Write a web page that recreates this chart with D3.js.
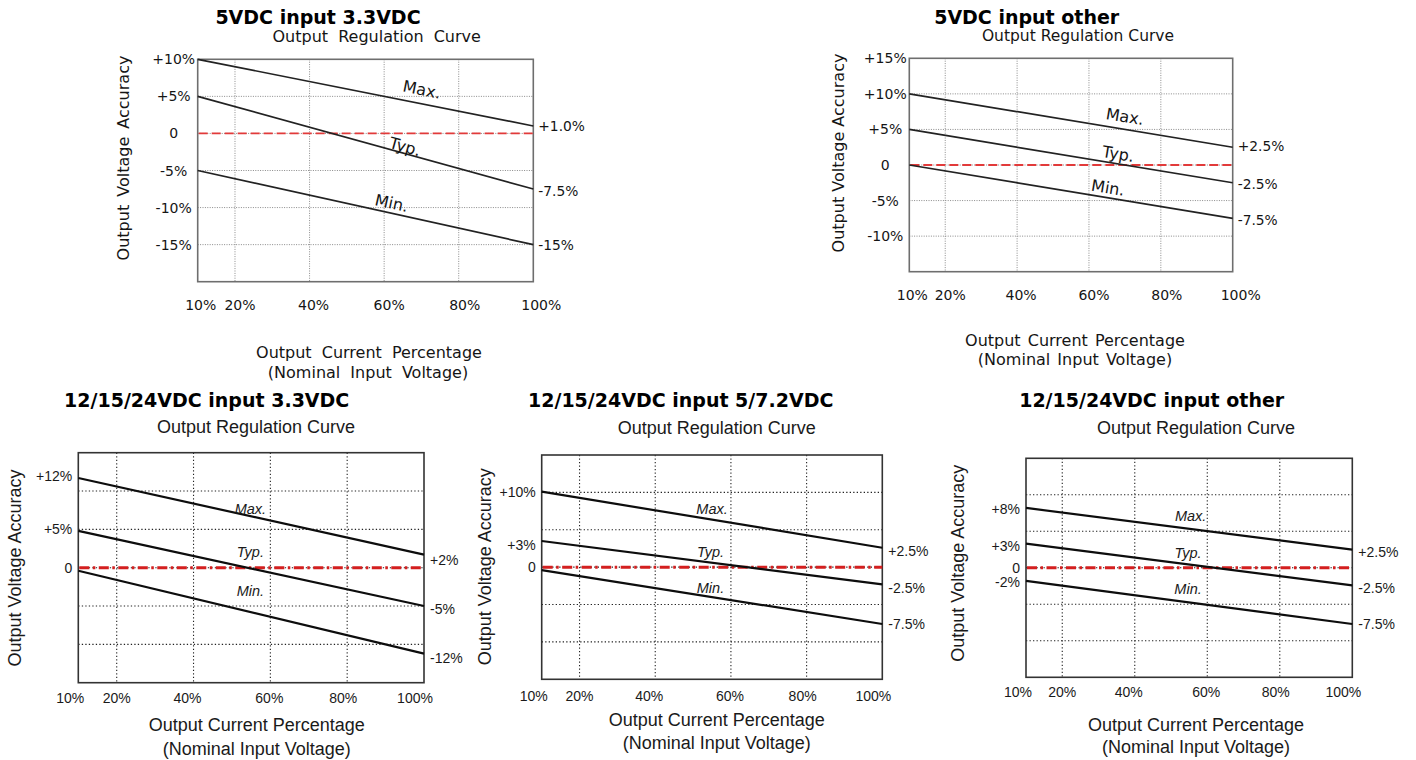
<!DOCTYPE html>
<html>
<head>
<meta charset="utf-8">
<script src="https://cdn.jsdelivr.net/npm/d3@7/dist/d3.min.js"></script>
<style>
  html, body { margin: 0; padding: 0; background: #fff; }
  svg { display: block; }
</style>
</head>
<body>
<svg id="chart" width="1416" height="760"></svg>
<script>
// ---------------- DATA ----------------
const xTickValues = [10, 20, 40, 60, 80, 100];
const xTickLabels = ["10%", "20%", "40%", "60%", "80%", "100%"];
const xGridValues = [20, 40, 60, 80];
const seriesNames = ["Max.", "Typ.", "Min."];

const panelTitles = [
  "5VDC input 3.3VDC",
  "5VDC input other",
  "12/15/24VDC input 3.3VDC",
  "12/15/24VDC input 5/7.2VDC",
  "12/15/24VDC input other"
];
const subTitle = "Output Regulation Curve";
const yAxisTitle = "Output Voltage Accuracy";
const xAxisTitle1 = "Output Current Percentage";
const xAxisTitle2 = "(Nominal Input Voltage)";

// Panel 1: 5VDC input 3.3VDC
const p1Start = [10, 5, -5];
const p1End = [1.0, -7.5, -15];
const p1YTicks = [10, 5, 0, -5, -10, -15];
const p1YTickLabels = ["+10%", "+5%", "0", "-5%", "-10%", "-15%"];
const p1YGrid = [5, 0, -5, -10, -15];
const p1EndLabels = ["+1.0%", "-7.5%", "-15%"];
const p1NameX = [70.1, 65.6, 62.0];
const p1NameY = [5.9, -1.8, -9.4];

// Panel 2: 5VDC input other
const p2Start = [10, 5, 0];
const p2End = [2.5, -2.5, -7.5];
const p2YTicks = [15, 10, 5, 0, -5, -10];
const p2YTickLabels = ["+15%", "+10%", "+5%", "0", "-5%", "-10%"];
const p2YGrid = [10, 5, 0, -5, -10];
const p2EndLabels = ["+2.5%", "-2.5%", "-7.5%"];
const p2NameX = [70.0, 68.1, 65.3];
const p2NameY = [6.8, 1.55, -3.2];

// Panel 3: 12/15/24VDC input 3.3VDC
const p3Start = [11.7, 4.8, -0.4];
const p3End = [1.7, -5.0, -11.2];
const p3YTicks = [12, 5, 0];
const p3YTickLabels = ["+12%", "+5%", "0"];
const p3YGrid = [10, 5, 0, -5, -10];
const p3EndLabels = ["+2%", "-5%", "-12%"];
const p3NameX = [54.8, 54.8, 54.8];
const p3NameY = [7.66, 2.09, -3.04];

// Panel 4: 12/15/24VDC input 5/7.2VDC
const p4Start = [10.1, 3.5, -0.4];
const p4End = [2.6, -2.3, -7.6];
const p4YTicks = [10, 3, 0];
const p4YTickLabels = ["+10%", "+3%", "0"];
const p4YGrid = [10, 5, 0, -5, -10];
const p4EndLabels = ["+2.5%", "-2.5%", "-7.5%"];
const p4NameX = [55.0, 54.6, 54.6];
const p4NameY = [7.78, 2.07, -2.82];

// Panel 5: 12/15/24VDC input other
const p5Start = [8.2, 3.3, -1.8];
const p5End = [2.5, -2.4, -7.7];
const p5YTicks = [8, 3, 0, -2];
const p5YTickLabels = ["+8%", "+3%", "0", "-2%"];
const p5YGrid = [10, 5, 0, -5, -10];
const p5EndLabels = ["+2.5%", "-2.5%", "-7.5%"];
const p5NameX = [55.4, 54.7, 54.7];
const p5NameY = [7.14, 1.99, -2.9];

// ---------------- LAYOUT / STYLE ----------------
const topStyle = {
  font: "'DejaVu Sans', Verdana, sans-serif",
  text: "#151515",
  line: "#222", lineW: 1.7,
  grid: "#8a8a8a", gridDash: "1,1.4", gridW: 1,
  border: "#6e6e6e", borderW: 1.6,
  red: "#e23a3a", redW: 1.8, redDash: "9,4",
  tickSize: 14, endSize: 13.8, nameSize: 16, nameItalic: false, rotateNames: true,
  xNudge: [3, 5, 4, 5, 6, 8], yLabelAnchor: "middle", yLabelDx: -24, endDx: 5
};
const botStyle = {
  font: "'Liberation Sans', Arial, sans-serif",
  text: "#1a1a1a",
  line: "#0d0d0d", lineW: 2.2,
  grid: "#222", gridDash: "1.3,2.2", gridW: 1.1,
  border: "#333", borderW: 1.6,
  red: "#d41f1f", redW: 3, redDash: "10,3.5,2.5,3.5",
  tickSize: 14, endSize: 14, nameSize: 14.5, nameItalic: true, rotateNames: false,
  xNudge: [-8, 0, -6, -1, -4, -9], yLabelAnchor: "end", yLabelDx: -6, endDx: 6
};

const panels = [
  { title: panelTitles[0], st: topStyle, box: {l: 197.7, r: 533.3, t: 59.3, b: 281.7}, yDomain: [-20, 10],
    start: p1Start, end: p1End, yTicks: p1YTicks, yTickLabels: p1YTickLabels, yGrid: p1YGrid,
    endLabels: p1EndLabels, nameX: p1NameX, nameY: p1NameY,
    pos: { title: [318, 17], sub: [376.7, 36.7], subSize: 16, subWs: 5, yl: [123, 158], ylSize: 16, ylWs: 3,
           xt1: [369, 352], xt2: [368, 372], xtSize: 16, xtWs: 5, tickY: 305, endDy: [0, 2, 0] } },
  { title: panelTitles[1], st: topStyle, box: {l: 909.3, r: 1232.7, t: 58.3, b: 271.7}, yDomain: [-15, 15],
    start: p2Start, end: p2End, yTicks: p2YTicks, yTickLabels: p2YTickLabels, yGrid: p2YGrid,
    endLabels: p2EndLabels, nameX: p2NameX, nameY: p2NameY,
    pos: { title: [1026.7, 17], sub: [1078, 36], subSize: 15.5, subWs: 0, yl: [838, 153], ylSize: 16, ylWs: 0,
           xt1: [1075, 340], xt2: [1075, 359], xtSize: 16, xtWs: 2, tickY: 295, endDy: [-1, 1, 2] } },
  { title: panelTitles[2], st: botStyle, box: {l: 78.3, r: 424, t: 452.7, b: 682.7}, yDomain: [-15, 15],
    start: p3Start, end: p3End, yTicks: p3YTicks, yTickLabels: p3YTickLabels, yGrid: p3YGrid,
    endLabels: p3EndLabels, nameX: p3NameX, nameY: p3NameY,
    pos: { title: [206.7, 400], sub: [256, 426.7], subSize: 18, subWs: 0, yl: [15, 568], ylSize: 18, ylWs: 0,
           xt1: [256.7, 725], xt2: [256.7, 749], xtSize: 18, xtWs: 0, tickY: 698.3, endDy: [5, 2.5, 4.5] } },
  { title: panelTitles[3], st: botStyle, box: {l: 541.7, r: 882.3, t: 455, b: 679.3}, yDomain: [-15, 15],
    start: p4Start, end: p4End, yTicks: p4YTicks, yTickLabels: p4YTickLabels, yGrid: p4YGrid,
    endLabels: p4EndLabels, nameX: p4NameX, nameY: p4NameY,
    pos: { title: [680.7, 400], sub: [716.7, 428.3], subSize: 18, subWs: 0, yl: [485, 566.7], ylSize: 18, ylWs: 0,
           xt1: [716.7, 720], xt2: [716.7, 743.3], xtSize: 18, xtWs: 0, tickY: 695.7, endDy: [3, 4, 0] } },
  { title: panelTitles[4], st: botStyle, box: {l: 1026, r: 1352.3, t: 458.3, b: 677.3}, yDomain: [-15, 15],
    start: p5Start, end: p5End, yTicks: p5YTicks, yTickLabels: p5YTickLabels, yGrid: p5YGrid,
    endLabels: p5EndLabels, nameX: p5NameX, nameY: p5NameY,
    pos: { title: [1151.7, 400], sub: [1196, 428.3], subSize: 18, subWs: 0, yl: [958.3, 563.3], ylSize: 18, ylWs: 0,
           xt1: [1196, 725], xt2: [1196, 746.7], xtSize: 18, xtWs: 0, tickY: 692.3, endDy: [2, 3, 0] } }
];

// ---------------- DRAW ----------------
const svg = d3.select("#chart");
svg.append("rect").attr("width", 1416).attr("height", 760).attr("fill", "#fff");

panels.forEach(p => {
  const st = p.st;
  const x = d3.scaleLinear().domain([10, 100]).range([p.box.l, p.box.r]);
  const y = d3.scaleLinear().domain(p.yDomain).range([p.box.b, p.box.t]);
  const g = svg.append("g");

  // horizontal grid
  g.append("g").selectAll("line").data(p.yGrid).join("line")
    .attr("x1", x(10)).attr("x2", x(100))
    .attr("y1", d => y(d)).attr("y2", d => y(d))
    .attr("stroke", st.grid).attr("stroke-width", st.gridW)
    .attr("stroke-dasharray", st.gridDash);
  // vertical grid
  g.append("g").selectAll("line").data(xGridValues).join("line")
    .attr("x1", d => x(d)).attr("x2", d => x(d))
    .attr("y1", y(p.yDomain[1])).attr("y2", y(p.yDomain[0]))
    .attr("stroke", st.grid).attr("stroke-width", st.gridW)
    .attr("stroke-dasharray", st.gridDash);

  // border
  g.append("rect")
    .attr("x", x(10)).attr("y", y(p.yDomain[1]))
    .attr("width", x(100) - x(10)).attr("height", y(p.yDomain[0]) - y(p.yDomain[1]))
    .attr("fill", "none").attr("stroke", st.border).attr("stroke-width", st.borderW);

  // zero reference (red)
  g.append("line")
    .attr("x1", x(10) + 1).attr("x2", x(100))
    .attr("y1", y(0)).attr("y2", y(0))
    .attr("stroke", st.red).attr("stroke-width", st.redW)
    .attr("stroke-dasharray", st.redDash);

  // series lines
  const lineGen = d3.line().x(d => x(d[0])).y(d => y(d[1]));
  seriesNames.forEach((name, i) => {
    g.append("path")
      .attr("d", lineGen([[10, p.start[i]], [100, p.end[i]]]))
      .attr("fill", "none").attr("stroke", st.line).attr("stroke-width", st.lineW);

    // series name label
    const cx = x(p.nameX[i]), cy = y(p.nameY[i]);
    const ang = st.rotateNames
      ? Math.atan2(y(p.end[i]) - y(p.start[i]), x(100) - x(10)) * 180 / Math.PI : 0;
    g.append("text")
      .attr("transform", `translate(${cx},${cy}) rotate(${ang})`)
      .attr("text-anchor", "middle").attr("dominant-baseline", "central")
      .attr("font-family", st.font).attr("font-size", st.nameSize)
      .attr("font-style", st.nameItalic ? "italic" : "normal")
      .attr("fill", st.text).text(name);

    // end value label
    g.append("text")
      .attr("x", x(100) + st.endDx).attr("y", y(p.end[i]) + p.pos.endDy[i])
      .attr("dominant-baseline", "central")
      .attr("font-family", st.font).attr("font-size", st.endSize)
      .attr("fill", st.text).text(p.endLabels[i]);
  });

  // y tick labels
  g.append("g").selectAll("text").data(p.yTicks).join("text")
    .attr("x", x(10) + st.yLabelDx).attr("y", d => y(d))
    .attr("text-anchor", st.yLabelAnchor).attr("dominant-baseline", "central")
    .attr("font-family", st.font).attr("font-size", st.tickSize)
    .attr("fill", st.text).text((d, i) => p.yTickLabels[i]);

  // x tick labels
  g.append("g").selectAll("text").data(xTickValues).join("text")
    .attr("x", (d, i) => x(d) + st.xNudge[i]).attr("y", p.pos.tickY)
    .attr("text-anchor", "middle").attr("dominant-baseline", "central")
    .attr("font-family", st.font).attr("font-size", st.tickSize)
    .attr("fill", st.text).text((d, i) => xTickLabels[i]);

  // titles
  g.append("text").attr("x", p.pos.title[0]).attr("y", p.pos.title[1])
    .attr("text-anchor", "middle").attr("dominant-baseline", "central")
    .attr("font-family", "'DejaVu Sans', Verdana, sans-serif").attr("font-weight", "bold")
    .attr("font-size", 19).attr("fill", "#000").text(p.title);
  g.append("text").attr("x", p.pos.sub[0]).attr("y", p.pos.sub[1])
    .attr("text-anchor", "middle").attr("dominant-baseline", "central")
    .attr("font-family", st.font).attr("font-size", p.pos.subSize)
    .attr("word-spacing", p.pos.subWs).attr("fill", st.text).text(subTitle);
  g.append("text")
    .attr("transform", `translate(${p.pos.yl[0]},${p.pos.yl[1]}) rotate(-90)`)
    .attr("text-anchor", "middle").attr("dominant-baseline", "central")
    .attr("font-family", st.font).attr("font-size", p.pos.ylSize)
    .attr("word-spacing", p.pos.ylWs).attr("fill", st.text).text(yAxisTitle);
  g.append("text").attr("x", p.pos.xt1[0]).attr("y", p.pos.xt1[1])
    .attr("text-anchor", "middle").attr("dominant-baseline", "central")
    .attr("font-family", st.font).attr("font-size", p.pos.xtSize)
    .attr("word-spacing", p.pos.xtWs).attr("fill", st.text).text(xAxisTitle1);
  g.append("text").attr("x", p.pos.xt2[0]).attr("y", p.pos.xt2[1])
    .attr("text-anchor", "middle").attr("dominant-baseline", "central")
    .attr("font-family", st.font).attr("font-size", p.pos.xtSize)
    .attr("word-spacing", p.pos.xtWs).attr("fill", st.text).text(xAxisTitle2);
});
</script>
</body>
</html>
